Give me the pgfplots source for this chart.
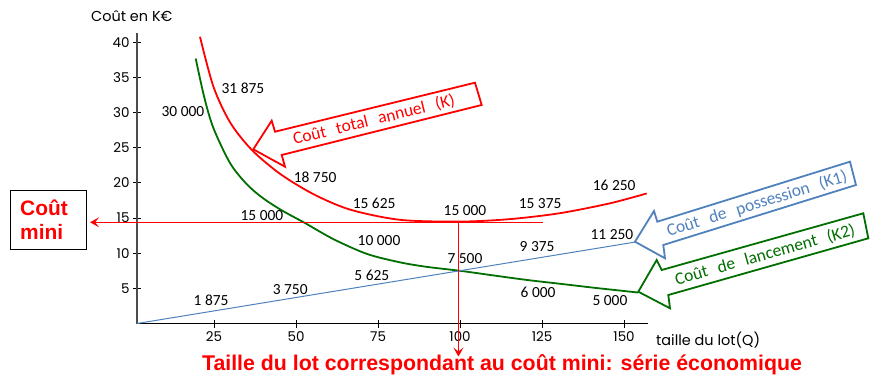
\documentclass[border=0pt]{standalone}
\usepackage{fontspec}
\setmainfont{Carlito}
\newfontfamily\poppins{Poppins}
\newfontfamily\arialf{Liberation Sans}
\usepackage{pgfplots}
\pgfplotsset{compat=1.18}
\usetikzlibrary{arrows.meta}
\definecolor{cred}{RGB}{255,0,0}
\definecolor{cblue}{RGB}{79,129,189}
\definecolor{cgreen}{RGB}{0,110,0}
\begin{document}
\begin{tikzpicture}
\useasboundingbox (0,0) rectangle (885bp,-383bp);
\begin{axis}[
  at={(137bp,-323.5bp)}, anchor=south west,
  width=511bp, height=290.3bp, scale only axis,
  xmin=1.5, xmax=157.3, ymin=0, ymax=41.3,
  axis lines=left, axis line style={-},
  x axis line style={black, line width=1.2bp},
  y axis line style={black!70, line width=1.6bp},
  xtick={25,50,75,100,125,150}, ytick={5,10,15,20,25,30,35,40},
  tick align=center, major tick length=8bp,
  tick style={black, line width=0.9bp},
  /pgf/number format/assume math mode=true,
  ticklabel style={font=\poppins\fontsize{13.5}{15}\selectfont},
  xticklabel style={yshift=-1bp},
  clip=false,
]
\addplot[cred, line width=1.8bp, smooth] coordinates {
(20.7,40.8) (24.8,33.7) (29.9,28.6) (36.5,24.7) (45.1,21.3) (55.3,18.4) (66.5,16.2)
(81.7,14.75) (100,14.5) (115.2,14.85) (130.5,15.7) (145.7,17.1) (156.9,18.5)};
\addplot[cgreen, line width=1.8bp, smooth] coordinates {
(19.4,37.7) (22.0,32.2) (24.8,27.8) (29.9,22.8) (35.0,19.8) (40.0,17.8) (46.0,16.0)
(52.7,14.3) (61.4,12.0) (71.6,9.9) (81.7,8.7) (90.0,8.05) (100.0,7.5) (110.0,6.85)
(120.3,6.2) (130.5,5.65) (140.6,5.1) (147.5,4.75) (154.4,4.4)};
\addplot[cblue, line width=1bp] coordinates {(1.5,0) (153.6,11.6)};
% cout mini lines
\draw[cred, line width=1bp, -{Stealth[length=9bp,width=10bp,inset=4bp]}] (axis cs:125.3,14.4) -- (axis cs:-12.8,14.4);
\draw[cred, line width=1bp, -{Stealth[length=9bp,width=10bp,inset=4bp]}] (axis cs:99.5,14.4) -- (axis cs:99.5,-4.7);
% value labels
\begin{scope}[every node/.style={font=\fontsize{15.5}{17}\selectfont, inner sep=0pt}]
\node at (axis cs:33.8,33.5) {31 875};
\node at (axis cs:15.5,30.1) {30 000};
\node at (axis cs:55.8,20.8) {18 750};
\node at (axis cs:73.8,17.1) {15 625};
\node at (axis cs:101.5,16.0) {15 000};
\node at (axis cs:124.4,17.1) {15 375};
\node at (axis cs:147,19.6) {16 250};
\node at (axis cs:39.6,15.3) {15 000};
\node at (axis cs:75.3,11.8) {10 000};
\node at (axis cs:123.5,10.9) {9 375};
\node at (axis cs:146.3,12.6) {11 250};
\node at (axis cs:101.5,9.2) {7 500};
\node at (axis cs:73.1,6.9) {5 625};
\node at (axis cs:48.2,4.9) {3 750};
\node at (axis cs:24.1,3.3) {1 875};
\node at (axis cs:123.8,4.5) {6 000};
\node at (axis cs:145.7,3.2) {5 000};
\end{scope}
\end{axis}
\begin{scope}[x=1bp, y=-1bp]
% axis titles
\node[font=\poppins\fontsize{14.5}{16}\selectfont, inner sep=0pt, anchor=west] at (91,16) {Coût en K€};
\node[font=\poppins\fontsize{14.5}{16}\selectfont, inner sep=0pt, anchor=west] at (656,340) {taille du lot(Q)};
% cout mini box
\draw[black, line width=1bp] (10,190) rectangle (86,249);
\node[font=\arialf\bfseries\fontsize{21}{24}\selectfont, text=cred, align=left, inner sep=0pt, anchor=west] at (20,219.5) {Coût\\mini};
% bottom text
\node[font=\arialf\bfseries\fontsize{21.4}{24}\selectfont, text=cred, inner sep=0pt] at (502,365) {Taille du lot correspondant au coût mini: série économique};
% callouts
\draw[cred, line width=1.8bp, line join=miter] (253.3,149.3) -- (271.7,120.7) -- (275,131.7) -- (475,82.7) -- (481.7,105) -- (281.7,155) -- (285,166.7) -- cycle;
\node[text=cred, rotate=13.8, font=\fontsize{17.5}{19}\selectfont, inner sep=0pt] at (374,120) {Coût\hspace{0.6em}total\hspace{0.6em}annuel\hspace{0.6em}(K)};
\draw[cblue, line width=1.8bp, line join=miter] (635,241.7) -- (654,211) -- (657.3,221.7) -- (850,161.7) -- (856,185) -- (663.3,245) -- (665,258.3) -- cycle;
\node[text=cblue, rotate=17.3, font=\fontsize{17.5}{19}\selectfont, inner sep=0pt] at (757,204) {Coût\hspace{0.6em}de\hspace{0.6em}possession\hspace{0.6em}(K1)};
\draw[cgreen, line width=1.8bp, line join=miter] (638.3,291.7) -- (656.7,260) -- (661.7,270) -- (863.3,213.3) -- (868.3,238.3) -- (668.3,295) -- (670,308.3) -- cycle;
\node[text=cgreen, rotate=15.7, font=\fontsize{17.5}{19}\selectfont, inner sep=0pt] at (765,255) {Coût\hspace{0.6em}de\hspace{0.6em}lancement\hspace{0.6em}(K2)};
\end{scope}
\end{tikzpicture}
\end{document}
